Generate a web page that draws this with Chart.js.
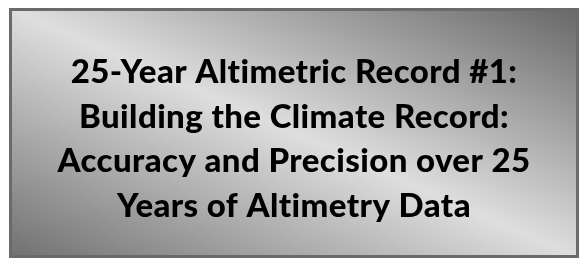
<!DOCTYPE html>
<html>
<head>
<meta charset="utf-8">
<script src="https://cdn.jsdelivr.net/npm/chart.js@4"></script>
<style>
  html, body { margin: 0; padding: 0; background: #ffffff; }
  #wrap { position: relative; width: 579px; height: 258px; }
</style>
</head>
<body>
<div id="wrap"><canvas id="titleChart"></canvas></div>
<script>
// Title text, one entry per line
var titleLines = [
  '25-Year Altimetric Record #1:',
  'Building the Climate Record:',
  'Accuracy and Precision over 25',
  'Years of Altimetry Data'
];
var categories = [];
var values = [];

// grey box with a diagonal dark-light-dark fill, drawn behind everything
var boxPlugin = {
  id: 'boxBackground',
  beforeDraw: function (chart) {
    var ctx = chart.ctx;
    var x0 = 9, y0 = 8, w = chart.width - x0, h = chart.height - y0;
    var cx = x0 + w / 2, cy = y0 + h / 2;
    var len = Math.sqrt(w * w + h * h);
    var nx = h / len, ny = -w / len;
    var d = (w * h) / len;
    ctx.save();
    var g = ctx.createLinearGradient(cx + nx * d, cy + ny * d, cx - nx * d, cy - ny * d);
    g.addColorStop(0, '#676767');
    g.addColorStop(0.5, '#dedede');
    g.addColorStop(1, '#707070');
    ctx.fillStyle = g;
    ctx.fillRect(x0, y0, w, h);
    ctx.strokeStyle = '#6a6a6a';
    ctx.lineWidth = 3;
    ctx.strokeRect(x0 + 1.5, y0 + 1.5, w - 3, h - 3);
    ctx.restore();
    // a little tracking keeps "ti" from turning into a ligature
    ctx.letterSpacing = '0.4px';
  }
};

new Chart(document.getElementById('titleChart'), {
  type: 'bar',
  data: {
    labels: categories,
    datasets: [{ data: values }]
  },
  options: {
    responsive: true,
    maintainAspectRatio: false,
    animation: false,
    layout: { padding: { top: 50, left: 9 } },
    scales: {
      x: { display: false },
      y: { display: false }
    },
    plugins: {
      legend: { display: false },
      tooltip: { enabled: false },
      title: {
        display: true,
        text: titleLines,
        color: '#000000',
        font: { family: 'Lato', size: 33, weight: 900, lineHeight: 1.355 },
        padding: 0
      }
    }
  },
  plugins: [boxPlugin]
});
</script>
</body>
</html>
